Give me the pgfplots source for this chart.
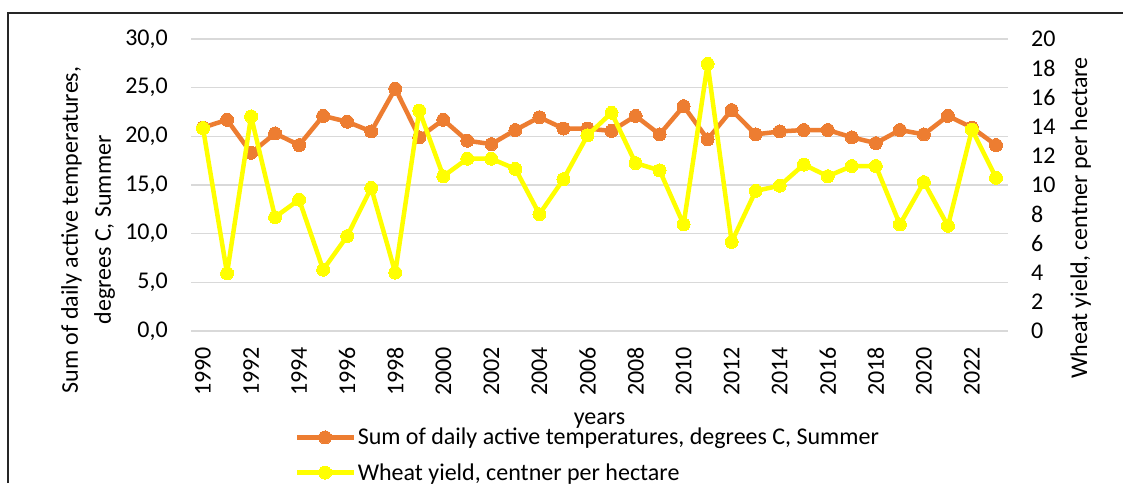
\documentclass[border=0pt]{standalone}
\usepackage{pgfplots}
\pgfplotsset{compat=1.18}
\usepackage{fontspec}
\setmainfont{Carlito}
\definecolor{xlorange}{HTML}{ED7D31}
\definecolor{xlyellow}{HTML}{FFFF00}
\definecolor{gridgray}{HTML}{D9D9D9}
\newcommand{\fs}{\fontsize{24}{33}\selectfont}
\pgfplotsset{
  common/.style={
    at={(191pt,152pt)}, anchor=south west,
    width=817pt, height=292pt, scale only axis,
    xmin=1989.5, xmax=2023.5,
    clip=false,
    axis line style={draw=none},
    major tick length=0pt,
    tick style={draw=none},
    tick label style={font=\fs, inner sep=0pt},
    label style={font=\fs},
  },
  orangestyle/.style={color=xlorange, line width=4.5pt, line join=round, mark=*, mark size=6.5pt, mark options={solid, fill=xlorange, draw=xlorange, line width=0pt}},
  yellowstyle/.style={color=xlyellow, line width=4.5pt, line join=round, mark=*, mark size=6.5pt, mark options={solid, fill=xlyellow, draw=xlyellow, line width=0pt}},
}
\begin{document}
\begin{tikzpicture}
\useasboundingbox (0,0) rectangle (1123pt,483pt);
\fill[white] (0,0) rectangle (1123pt,483pt);
\draw[line width=1.3pt, black!85] (8pt,0pt) -- (8pt,470pt) -- (1123pt,470pt);
\begin{axis}[common,
  ymin=0, ymax=30,
  axis x line*=bottom, axis y line*=left,
  ytick={0,5,10,15,20,25,30},
  yticklabels={{0,0},{5,0},{10,0},{15,0},{20,0},{25,0},{30,0}},
  yticklabel shift=23pt,
  xtick={1990,1992,1994,1996,1998,2000,2002,2004,2006,2008,2010,2012,2014,2016,2018,2020,2022},
  xticklabels={1990,1992,1994,1996,1998,2000,2002,2004,2006,2008,2010,2012,2014,2016,2018,2020,2022},
  xticklabel style={rotate=90, anchor=east},
  xticklabel shift=16pt,
  ymajorgrids, major grid style={color=gridgray, line width=1.3pt},
  xlabel={years},
  xlabel style={at={(axis description cs:0.5,-0.308)}, anchor=center},
  ylabel={Sum of daily active temperatures,\\degrees C, Summer},
  ylabel style={align=center, at={(axis description cs:-0.126,0.346)}, anchor=center},
]
\addplot[orangestyle] coordinates {
(1990,20.9) (1991,21.7) (1992,18.3) (1993,20.3) (1994,19.1) (1995,22.1)
(1996,21.5) (1997,20.5) (1998,24.9) (1999,19.9) (2000,21.7) (2001,19.55)
(2002,19.2) (2003,20.65) (2004,21.96) (2005,20.8) (2006,20.8) (2007,20.55)
(2008,22.1) (2009,20.2) (2010,23.1) (2011,19.7) (2012,22.7) (2013,20.2)
(2014,20.5) (2015,20.65) (2016,20.65) (2017,19.9) (2018,19.3) (2019,20.65)
(2020,20.2) (2021,22.1) (2022,20.9) (2023,19.1)
};
\end{axis}
\begin{axis}[common,
  ymin=0, ymax=20,
  axis y line*=right, hide x axis,
  ytick={0,2,4,6,8,10,12,14,16,18,20},
  yticklabels={0,2,4,6,8,10,12,14,16,18,20},
  yticklabel style={anchor=west},
  yticklabel shift=23pt,
  ylabel={Wheat yield, centner per hectare},
  ylabel style={at={(axis description cs:1.089,0.387)}, anchor=center},
  legend style={draw=none, fill=none, inner sep=0pt, outer sep=0pt,
    at={(axis description cs:0.127,-0.328)}, anchor=north west,
    font=\fs, row sep=14pt, nodes={inner sep=1.5pt},
    cells={anchor=west}},
  legend image code/.code={\draw[mark repeat=2,mark phase=2,line width=4.5pt,#1] plot coordinates {(0pt,0pt) (28pt,0pt) (57pt,0pt)};},
]
\addlegendimage{orangestyle}
\addlegendentry{Sum of daily active temperatures, degrees C, Summer}
\addplot[yellowstyle] coordinates {
(1990,13.9) (1991,3.95) (1992,14.7) (1993,7.8) (1994,9.0) (1995,4.2)
(1996,6.5) (1997,9.8) (1998,4.0) (1999,15.1) (2000,10.6) (2001,11.8)
(2002,11.8) (2003,11.1) (2004,8.0) (2005,10.4) (2006,13.4) (2007,14.95)
(2008,11.5) (2009,11.0) (2010,7.3) (2011,18.3) (2012,6.1) (2013,9.6)
(2014,9.95) (2015,11.4) (2016,10.6) (2017,11.3) (2018,11.3) (2019,7.3)
(2020,10.2) (2021,7.2) (2022,13.8) (2023,10.5)
};
\addlegendentry{Wheat yield, centner per hectare}
\end{axis}
\end{tikzpicture}
\end{document}
